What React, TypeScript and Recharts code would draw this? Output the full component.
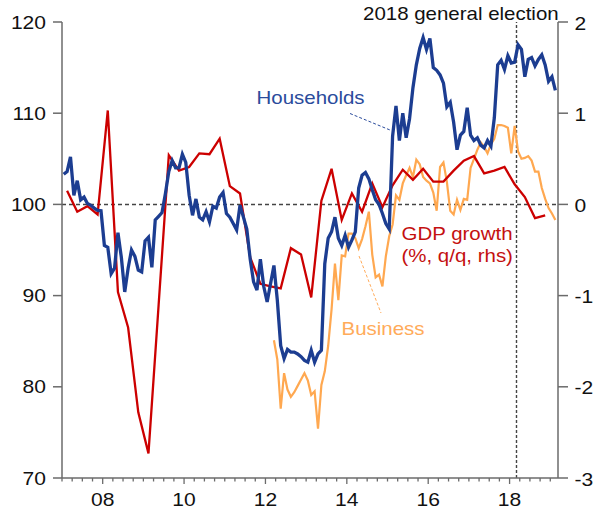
import React from 'react';
import { ComposedChart, Line, XAxis, YAxis, ReferenceLine } from 'recharts';

// ---- data (monthly from Jan 2007) ----
const START_YEAR = 2007;

const households = [
  103.3, 103.6, 105.2, 101.0, 102.6, 100.5, 100.8, 100.1, 99.9, 99.6, 99.35, 99.3,
  95.5, 95.3, 92.4, 93.0, 96.9, 94.2, 90.4, 93.0, 95.0, 94.3, 92.8, 92.6,
  96.0, 96.4, 93.1, 98.3, 98.7, 99.1, 101.2, 103.6, 104.8, 104.0, 104.0, 105.5,
  104.6, 101.0, 98.8, 100.6, 98.6, 98.3, 99.2, 98.1, 99.8, 99.6, 100.8, 101.3,
  99.0, 98.6, 97.9, 97.2, 99.9, 98.6, 97.3, 94.0, 91.5, 90.6, 94.0, 91.0,
  89.3, 91.3, 93.3, 89.5, 84.5, 83.1, 84.1, 83.8, 83.8, 83.6, 83.3, 82.9,
  82.7, 84.0, 82.7, 83.6, 84.0, 93.5, 96.3, 97.0, 98.6, 96.3, 95.5, 96.6,
  95.3, 96.1, 97.0, 101.8, 103.2, 103.5, 102.8, 101.6, 100.5, 100.0, 99.0, 97.9,
  97.3, 107.5, 110.8, 107.0, 110.0, 107.3, 109.4, 112.8, 115.3, 117.1, 118.3, 117.0,
  118.2, 115.0, 114.7, 114.2, 113.3, 110.7, 111.2, 109.0, 106.0, 107.6, 108.0, 110.6,
  107.6, 107.0, 107.3, 106.5, 106.2, 107.0, 106.4, 109.5, 115.3, 115.8, 114.8, 116.3,
  115.5, 115.6, 117.5, 117.0, 114.0, 115.9, 116.1, 115.2, 115.9, 116.4, 115.3, 113.5,
  114.0, 112.5,
];

// Business series starts in Mar 2012 (month index 62)
const BUSINESS_START_INDEX = 62;
const business = [
  85.1, 83.0, 77.6, 81.5, 79.7, 78.9, 79.4, 80.1, 80.8, 81.5,
  80.7, 79.1, 79.5, 75.4, 80.2, 81.7, 84.5, 88.5, 93.5, 89.5, 94.4, 94.3,
  96.8, 96.8, 96.3, 95.2, 96.2, 97.6, 99.2, 94.5, 92.0, 92.3, 91.0, 94.3,
  96.5, 97.8, 101.0, 100.5, 102.3, 103.2, 104.0, 103.0, 104.9, 104.4, 103.0, 102.6,
  102.3, 101.3, 99.3, 104.1, 104.6, 102.5, 99.3, 98.9, 100.5, 99.4, 100.6, 100.5,
  104.0, 105.0, 106.0, 106.8, 106.3, 105.6, 106.6, 107.2, 108.7, 108.7, 108.6, 108.4,
  105.6, 108.6, 105.8, 105.0, 105.1, 105.3, 104.8, 103.6, 103.6, 101.8, 100.6, 99.6,
  99.0, 98.3,
];

// GDP growth (% q/q), quarterly 2007Q1 .. 2018Q4
const gdpGrowth = [
  0.15, -0.08, -0.02, -0.11,
  1.03, -0.96, -1.35, -2.28,
  -2.73, -1.1, 0.54, 0.37,
  0.41, 0.56, 0.55, 0.72,
  0.2, 0.12, -0.58, -0.87,
  -0.9, -0.92, -0.48, -0.55,
  -1.02, 0.04, 0.39, -0.17,
  0.12, -0.08, 0.23, -0.03,
  0.21, 0.38, 0.27, 0.39,
  0.25, 0.25, 0.37, 0.48,
  0.53, 0.34, 0.37, 0.41,
  0.22, 0.08, -0.15, -0.12,
];

const leftTicks = [70, 80, 90, 100, 110, 120];
const rightTicks = [-3, -2, -1, 0, 1, 2];
const yearLabels = [2008, 2010, 2012, 2014, 2016, 2018];
const X_DOMAIN = [2007, 2019.19];
const ELECTION_X = 2018.17;

const quarterTicks: number[] = [];
for (let y = 2007; y <= 2019; y++) {
  for (let q = 0; q < 4; q++) {
    const t = y + q / 4;
    if (t <= X_DOMAIN[1]) quarterTicks.push(t);
  }
}

const data = households.map((h, i) => {
  const year = START_YEAR + Math.floor(i / 12);
  const m = i % 12;
  const bi = i - BUSINESS_START_INDEX;
  let gdp: number | null = null;
  if (m % 3 === 1) {
    const q = Math.floor(i / 3);
    if (q < gdpGrowth.length) gdp = gdpGrowth[q];
  }
  return {
    x: year + (m + 0.5) / 12,
    households: h,
    business: bi >= 0 && bi < business.length ? business[bi] : null,
    gdp,
  };
});

// ---- styles ----
const FONT = "'Liberation Sans', Arial, Helvetica, sans-serif";
const AXIS = '#6b6b6b';
const BLUE = '#1c3d91';
const RED = '#cc0000';
const ORANGE = '#ffa850';
const SX = 1.17;

const SText = ({ x, y, anchor = 'start', color = '#111', size = 17.5, children }: any) => (
  <text
    transform={`translate(${x},${y}) scale(${SX},1)`}
    textAnchor={anchor}
    fill={color}
    fontSize={size}
    fontFamily={FONT}
  >
    {children}
  </text>
);

const LeftTick = (props: any) => {
  const { x, y, payload } = props;
  return (
    <g>
      <line x1={x - 9} x2={x} y1={y} y2={y} stroke={AXIS} strokeWidth={1.5} />
      <SText x={x - 16} y={y + 6.5} anchor="end" size={18}>{payload.value}</SText>
    </g>
  );
};

const RightTick = (props: any) => {
  const { x, y, payload } = props;
  return (
    <g>
      <line x1={x} x2={x + 10} y1={y} y2={y} stroke={AXIS} strokeWidth={1.5} />
      <SText x={x + 16.5} y={y + 7.5} anchor="start" size={18}>{payload.value}</SText>
    </g>
  );
};

const BottomTick = (props: any) => {
  const { x, y, payload } = props;
  const v = payload.value;
  const r = Math.round(v);
  const isYear = Math.abs(v - r) < 1e-6;
  const major = isYear && yearLabels.includes(r);
  return (
    <g>
      <line x1={x} x2={x} y1={y} y2={y + (major ? 6 : 3.5)} stroke={AXIS} strokeWidth={1.3} />
      {major ? (
        <SText x={x} y={y + 28} anchor="middle" size={18}>{String(r).slice(2)}</SText>
      ) : null}
    </g>
  );
};

export default function App() {
  return (
    <div style={{ position: 'absolute', left: 0, top: 0, width: 595, height: 509, background: '#fff' }}>
      <ComposedChart
        width={595}
        height={509}
        data={data}
        margin={{ top: 22, right: 0, bottom: 0, left: 0 }}
      >
        <XAxis
          dataKey="x"
          type="number"
          domain={X_DOMAIN}
          allowDataOverflow
          ticks={quarterTicks}
          interval={0}
          height={31}
          tickSize={0}
          tickMargin={0}
          tickLine={false}
          axisLine={{ stroke: AXIS, strokeWidth: 1.5 }}
          tick={<BottomTick />}
        />
        <YAxis
          yAxisId="left"
          orientation="left"
          domain={[70, 120]}
          ticks={leftTicks}
          interval={0}
          width={62}
          tickSize={0}
          tickMargin={0}
          tickLine={false}
          axisLine={{ stroke: AXIS, strokeWidth: 1.5 }}
          tick={<LeftTick />}
        />
        <YAxis
          yAxisId="right"
          orientation="right"
          domain={[-3, 2]}
          ticks={rightTicks}
          interval={0}
          width={37}
          tickSize={0}
          tickMargin={0}
          tickLine={false}
          axisLine={{ stroke: AXIS, strokeWidth: 1.5 }}
          tick={<RightTick />}
        />
        <ReferenceLine yAxisId="left" y={100} stroke="#444" strokeWidth={1.5} strokeDasharray="4 3" />
        <ReferenceLine yAxisId="left" x={ELECTION_X} stroke="#444" strokeWidth={1.4} strokeDasharray="3 2" />
        <Line
          yAxisId="left"
          type="linear"
          dataKey="business"
          stroke={ORANGE}
          strokeWidth={2.2}
          dot={false}
          isAnimationActive={false}
        />
        <Line
          yAxisId="right"
          type="linear"
          dataKey="gdp"
          stroke={RED}
          strokeWidth={2.3}
          dot={false}
          connectNulls
          isAnimationActive={false}
        />
        <Line
          yAxisId="left"
          type="linear"
          dataKey="households"
          stroke={BLUE}
          strokeWidth={3.3}
          dot={false}
          isAnimationActive={false}
        />
      </ComposedChart>
      <svg
        width={595}
        height={509}
        style={{ position: 'absolute', left: 0, top: 0, pointerEvents: 'none' }}
      >
        <SText x={363} y={19.5} anchor="start">2018 general election</SText>
        <SText x={256.5} y={104} anchor="start" color="#2a4b9c">Households</SText>
        <line x1={350} y1={113.5} x2={390} y2={130} stroke="#2a4b9c" strokeWidth={1} strokeDasharray="3 2" />
        <SText x={401.5} y={239.5} anchor="start" color="#c41010">GDP growth</SText>
        <SText x={401.5} y={262} anchor="start" color="#c41010">(%, q/q, rhs)</SText>
        <SText x={341.5} y={335} anchor="start" color="#ffab5a">Business</SText>
        <line x1={359} y1={256} x2={381} y2={313} stroke="#ffab5a" strokeWidth={1} strokeDasharray="3 2" />
      </svg>
    </div>
  );
}
